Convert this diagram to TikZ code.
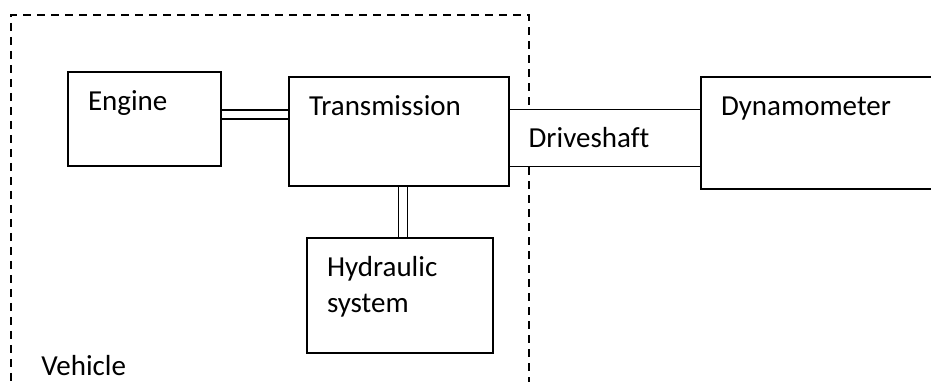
\documentclass[tikz,border=0pt]{standalone}
\usepackage{fontspec}
\setmainfont{Carlito}[Ligatures=CommonOff]
\usetikzlibrary{positioning,calc}
\tikzset{every picture/.style={font issue=\fontsize{14.5}{18}},
            font issue/.style={execute at begin picture={#1\selectfont}},
            unit/.style={draw,line width=1pt,fill=white,anchor=north west,
                inner xsep=10pt,inner ysep=0pt,text height=19pt,align=left},
            shaft/.style={double,double distance=3.6pt,line width=0.8pt},
            border/.style={draw,dashed,dash pattern=on 4pt off 3pt,line width=0.75pt,
                anchor=north west,inner sep=0pt}
        }

\begin{document}
\begin{tikzpicture}[x=0.5pt,y=-0.5pt]
      \useasboundingbox (0,0) rectangle (931,381);

      % 車両の枠
      \node[border,minimum width=259pt,minimum height=220pt] (vehicle) at (10,14) {};
      \node[anchor=base west,inner sep=0pt] (vehiclelabel) at (41,375) {Vehicle};

      % 箱の定義
      \node[unit,line width=0.65pt,text width=76pt,text depth=9.5pt] (driveshaft) at (508,109) {Driveshaft};
      \node[unit,text width=56.5pt,text depth=28pt] (engine) at (67,71) {Engine};
      \node[unit,text width=90pt,text depth=35.5pt] (transmission) at (288,76) {Transmission};
      \node[unit,text width=110pt,text depth=37pt] (dyno) at (700,76) {Dynamometer};
      \node[unit,text width=73pt,text depth=38.5pt] (hydraulic) at (306,237) {Hydraulic\\system};

      % 軸の定義
      \draw[shaft] ([yshift=2.25pt]engine.east) -- ([yshift=2.25pt]engine.east -| transmission.west);
      \draw[shaft] ([xshift=2pt]transmission.south) -- ([xshift=2pt]transmission.south |- hydraulic.north);
    \end{tikzpicture}
\end{document}
